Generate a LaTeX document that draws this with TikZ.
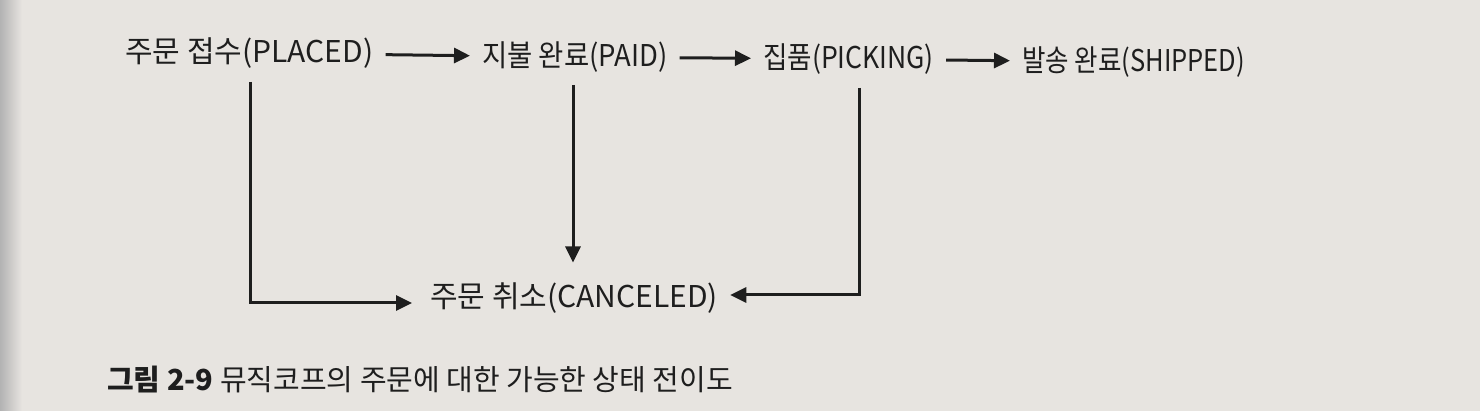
\documentclass[tikz,border=0pt]{standalone}
\usepackage{graphicx}
\usepackage{fontspec}
\newfontfamily\kr{Noto Sans CJK KR}
\usetikzlibrary{arrows.meta}
\definecolor{paper}{RGB}{231,228,224}
\definecolor{ink}{RGB}{30,30,30}
\newcommand\hsq[2]{\scalebox{#1}[1]{#2}}
\tikzset{
  st/.style={font=\kr\fontsize{30}{33}\selectfont, text=ink, inner xsep=12pt, inner ysep=5pt, anchor=west},
  arr/.style={draw=ink, line width=3pt, -{Triangle[length=16pt,width=15pt]}}
}
\begin{document}
\begin{tikzpicture}[x=1pt,y=-1pt]
\fill[paper] (0,0) rectangle (1480,411);
\fill[left color=black!30, right color=paper] (0,0) rectangle (22,411);
\useasboundingbox (0,0) rectangle (1480,411);
\node[st] (n1) at (113,53) {주문 접수(PLACED)};
\node[st] (n2) at (470,57) {\hsq{0.915}{지불 완료(PAID)}};
\node[st] (n3) at (751,59) {\hsq{0.885}{집품(PICKING)}};
\node[st] (n4) at (1010,62) {\hsq{0.85}{발송 완료(SHIPPED)}};
\node[st] (n5) at (418,298) {주문 취소(CANCELED)};
\node[font=\kr\fontsize{29}{32}\selectfont, text=ink, anchor=west, inner sep=0pt] (cap) at (107,380) {\textbf{그림 2-9} 뮤직코프의 주문에 대한 가능한 상태 전이도};
\coordinate (c1) at (250,82);
\coordinate (c2) at (573,85);
\coordinate (c3) at (859,88);
\draw[arr] (n1) -- (n2);
\draw[arr] (n2) -- (n3);
\draw[arr] (n3) -- (n4);
\draw[arr, shorten >=6pt] (c1) |- ([yshift=-5pt]n5.west);
\draw[arr, shorten >=15pt] (c2) -- (c2 |- n5.north);
\draw[arr] (c3) |- ([yshift=3pt]n5.east);
\end{tikzpicture}
\end{document}
